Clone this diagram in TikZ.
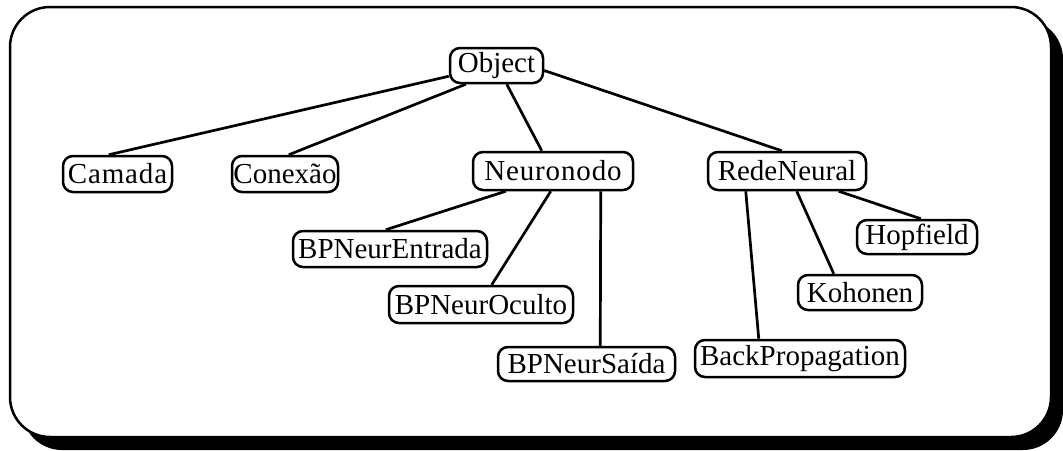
\documentclass[tikz,border=0pt]{standalone}
\usepackage{fontspec}
\setmainfont{Liberation Serif}
\newfontfamily\spacedserif[LetterSpace=3]{Liberation Serif}
\begin{document}
\begin{tikzpicture}[x=1pt,y=-1pt,
  cls/.style={draw, line width=2.5pt, rounded corners=10pt, inner sep=0pt,
    minimum height=36pt, font=\fontsize{29}{31}\selectfont},
  spaced/.style={font=\fontsize{29}{31}\spacedserif},
  link/.style={line width=2.7pt}]
\useasboundingbox (0,0) rectangle (1063,450);
% panel with drop shadow
\fill[black, rounded corners=40pt] (22,19) rectangle (1063,450);
\draw[fill=white, line width=2.5pt, rounded corners=40pt] (10,7) rectangle (1051,437);

% class hierarchy
\node[cls, minimum width=93pt, minimum height=35pt] (obj) at (496.5,65.5) {Object};
\node[cls, spaced, minimum width=109pt] (cam) at (117.5,174) {Camada};
\node[cls, minimum width=106pt] (con) at (285,174) {Conexão};
\node[cls, spaced, minimum width=160pt, minimum height=38pt] (neu) at (553,171) {Neuronodo};
\node[cls, minimum width=158pt, minimum height=38pt] (rede) at (787,171) {RedeNeural};
\node[cls, minimum width=194pt] (ent) at (390,249) {BPNeurEntrada};
\node[cls, minimum width=184pt, minimum height=37pt] (ocu) at (481,304.5) {BPNeurOculto};
\node[cls, minimum width=177pt, minimum height=34pt] (sai) at (586.5,364) {BPNeurSaída};
\node[cls, minimum width=120pt, minimum height=34pt] (hop) at (917,237) {Hopfield};
\node[cls, minimum width=124pt, minimum height=35pt] (koh) at (860,292.5) {Kohonen};
\node[cls, minimum width=210pt, minimum height=37pt] (bp) at (800,358.5) {BackPropagation};

% inheritance links
\draw[link] ([yshift=8pt]obj.south west) -- ([xshift=47pt]cam.north west);
\draw[link] ([xshift=17pt]obj.south west) -- ([xshift=58pt]con.north west);
\draw[link] ([xshift=58pt]obj.south west) -- ([xshift=70pt]neu.north west);
\draw[link] ([yshift=-5pt]obj.east) -- ([xshift=75pt]rede.north west);
\draw[link] ([xshift=34pt]neu.south west) -- ([xshift=94pt]ent.north west);
\draw[link] ([xshift=79pt]neu.south west) -- ([xshift=104pt]ocu.north west);
\draw[link] ([xshift=129pt]neu.south west) -- ([xshift=103.5pt]sai.north west);
\draw[link] ([xshift=39pt]rede.south west) -- ([xshift=65pt]bp.north west);
\draw[link] ([xshift=90pt]rede.south west) -- ([xshift=37pt]koh.north west);
\draw[link] ([xshift=132pt]rede.south west) -- ([xshift=65pt]hop.north west);
\end{tikzpicture}
\end{document}
